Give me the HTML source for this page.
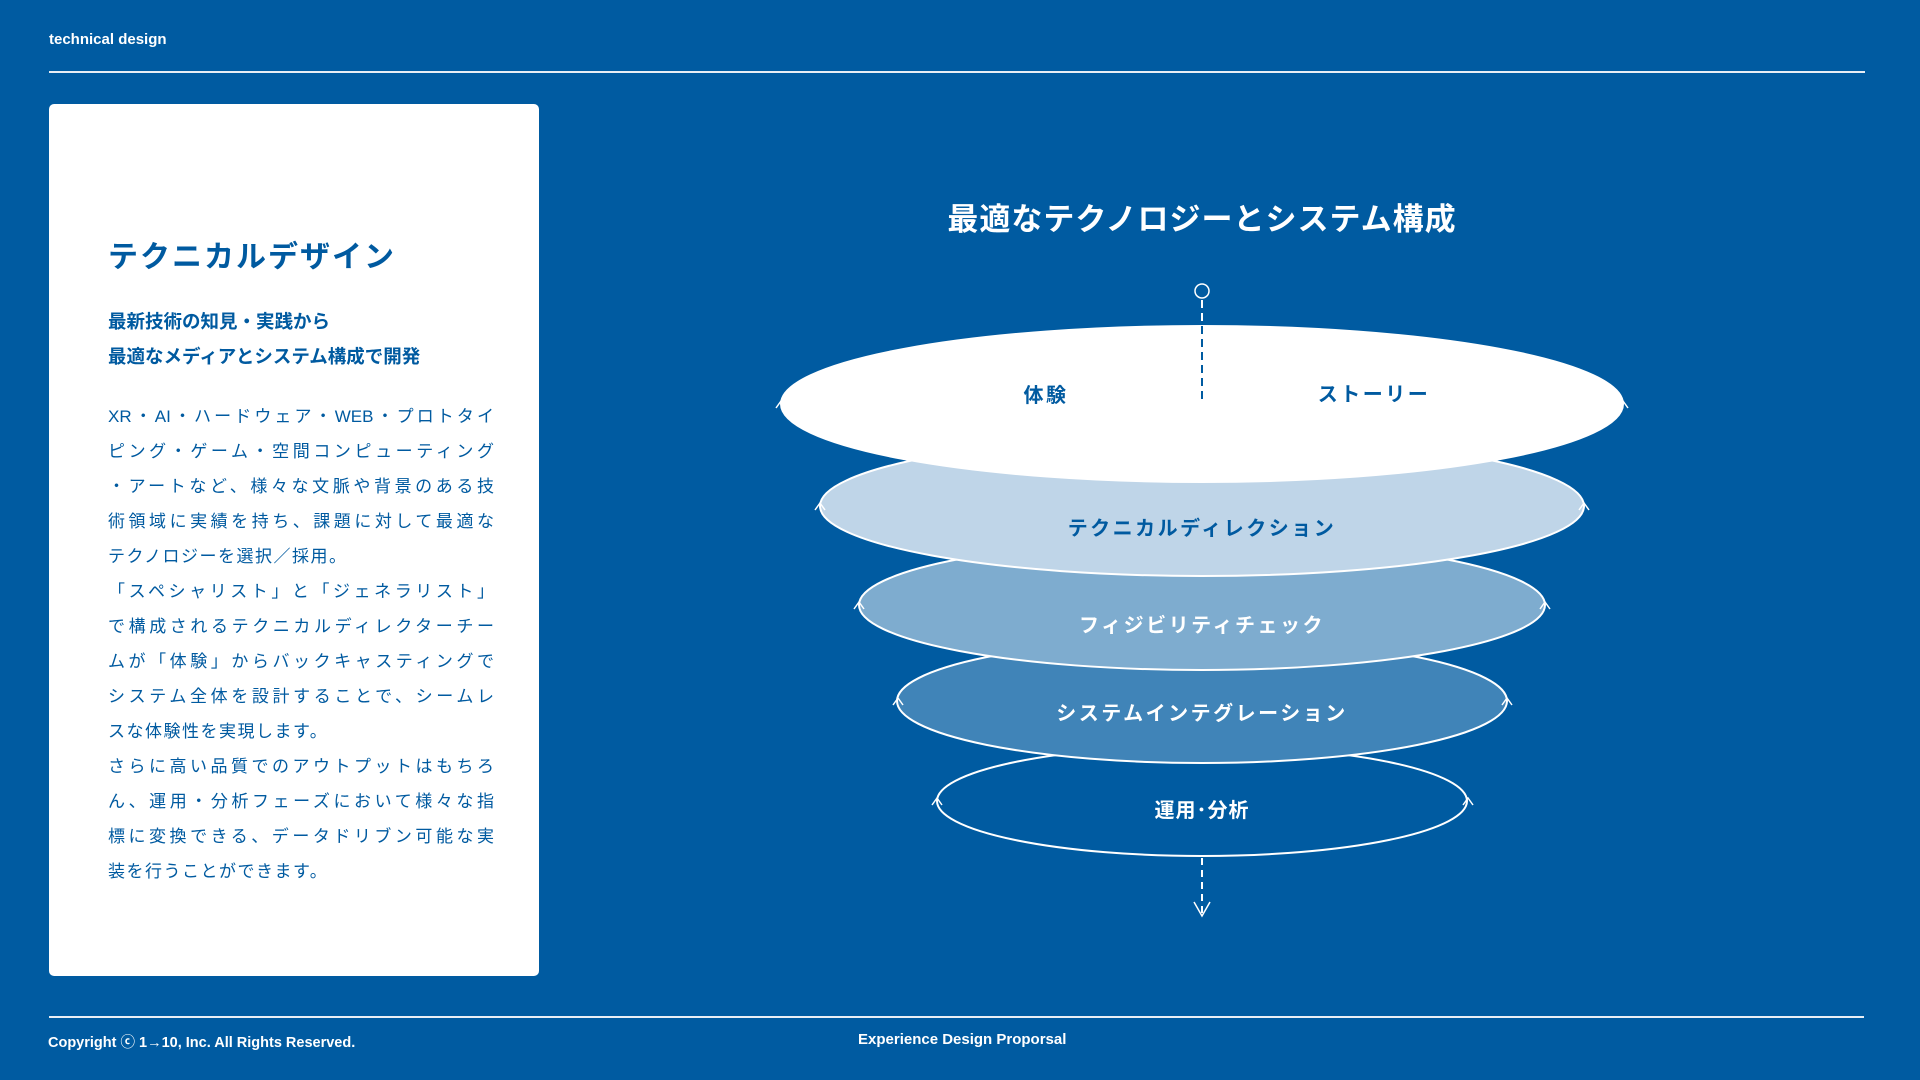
<!DOCTYPE html>
<html><head><meta charset="utf-8"><style>
*{margin:0;padding:0;box-sizing:border-box}
body{width:1920px;height:1080px;background:#005ba1;position:relative;overflow:hidden;font-family:"Liberation Sans","Noto Sans CJK JP",sans-serif}
.hdr{position:absolute;left:49px;top:31px;color:#fff;font-size:15px;font-weight:bold}
.line{position:absolute;height:2px;background:#e8eef5}
.card{position:absolute;left:49px;top:104px;width:490px;height:872px;background:#fff;border-radius:5px}
.ct{position:absolute;left:108px;top:232px;font-size:30px;font-weight:bold;color:#005aa0;letter-spacing:2px}
.sub{position:absolute;left:108px;font-size:18.5px;font-weight:bold;color:#005aa0;line-height:35px}
.body{position:absolute;left:108px;top:399px;width:386px;font-size:17px;color:#005aa0;line-height:35px}
.body div{text-align:justify;text-align-last:justify;white-space:nowrap}
.body div.l{text-align-last:left;letter-spacing:1.5px}
.ft{position:absolute;top:1031px;color:#fff;font-size:15px;font-weight:bold}
</style></head><body>
<div class="hdr">technical design</div>
<div class="line" style="left:49px;top:71px;width:1816px"></div>
<div class="card"></div>
<div class="ct">テクニカルデザイン</div>
<div class="sub" style="top:304px">最新技術の知見・実践から<br>最適なメディアとシステム構成で開発</div>
<div class="body">
<div>XR・AI・ハードウェア・WEB・プロトタイ</div>
<div>ピング・ゲーム・空間コンピューティング</div>
<div>・アートなど、様々な文脈や背景のある技</div>
<div>術領域に実績を持ち、課題に対して最適な</div>
<div class="l">テクノロジーを選択／採用。</div>
<div>「スペシャリスト」と「ジェネラリスト」</div>
<div>で構成されるテクニカルディレクターチー</div>
<div>ムが「体験」からバックキャスティングで</div>
<div>システム全体を設計することで、シームレ</div>
<div class="l">スな体験性を実現します。</div>
<div>さらに高い品質でのアウトプットはもちろ</div>
<div>ん、運用・分析フェーズにおいて様々な指</div>
<div>標に変換できる、データドリブン可能な実</div>
<div class="l">装を行うことができます。</div>
</div>
<div class="line" style="left:49px;top:1016px;width:1815px"></div>
<div class="ft" style="left:48px;font-size:14.5px">Copyright ⓒ 1→10, Inc. All Rights Reserved.</div>
<div class="ft" style="left:858px">Experience Design Proporsal</div>
<svg style="position:absolute;left:0;top:0" width="1920" height="1080" font-family="Liberation Sans,Noto Sans CJK JP,sans-serif">
<text x="1202" y="230" text-anchor="middle" fill="#fff" font-size="31" font-weight="bold" letter-spacing="1">最適なテクノロジーとシステム構成</text>
<g stroke="#fff" stroke-width="2">
<ellipse cx="1202" cy="801" rx="265" ry="55" fill="none"/>
<ellipse cx="1202" cy="701" rx="305" ry="62" fill="#4084b8"/>
<ellipse cx="1202" cy="605" rx="343" ry="65" fill="#7eaccf"/>
<ellipse cx="1202" cy="506" rx="382" ry="70" fill="#bfd5e8"/>
<ellipse cx="1202" cy="404" rx="421" ry="78" fill="#fff"/>
</g>
<g stroke="#fff" stroke-width="1.5" fill="none">
<path d="M776 408l5-7 5 7M1618 408l5-7 5 7"/>
<path d="M815 510l5-7 5 7M1579 510l5-7 5 7"/>
<path d="M854 609l5-7 5 7M1540 609l5-7 5 7"/>
<path d="M893 705l5-7 5 7M1502 705l5-7 5 7"/>
<path d="M932 805l5-7 5 7M1463 805l5-7 5 7"/>
<circle cx="1202" cy="291" r="7"/>
<path d="M1194 902l8 14 8-14"/>
</g>
<path d="M1202 300V402" stroke="#005ba1" stroke-width="2" stroke-dasharray="8,5"/>
<path d="M1202 300V326" stroke="#fff" stroke-width="2" stroke-dasharray="8,5"/>
<path d="M1202 858V914" stroke="#fff" stroke-width="2" stroke-dasharray="7,5"/>
<g font-size="20" font-weight="bold" text-anchor="middle" letter-spacing="2.5">
<text x="1046" y="402" fill="#005aa0">体験</text>
<text x="1374" y="401" fill="#005aa0">ストーリー</text>
<text x="1202" y="535" fill="#005aa0">テクニカルディレクション</text>
<text x="1202" y="632" fill="#fff">フィジビリティチェック</text>
<text x="1202" y="720" fill="#fff">システムインテグレーション</text>
<text x="1202" y="817" fill="#fff" letter-spacing="1">運用･分析</text>
</g>
</svg>
</body></html>
